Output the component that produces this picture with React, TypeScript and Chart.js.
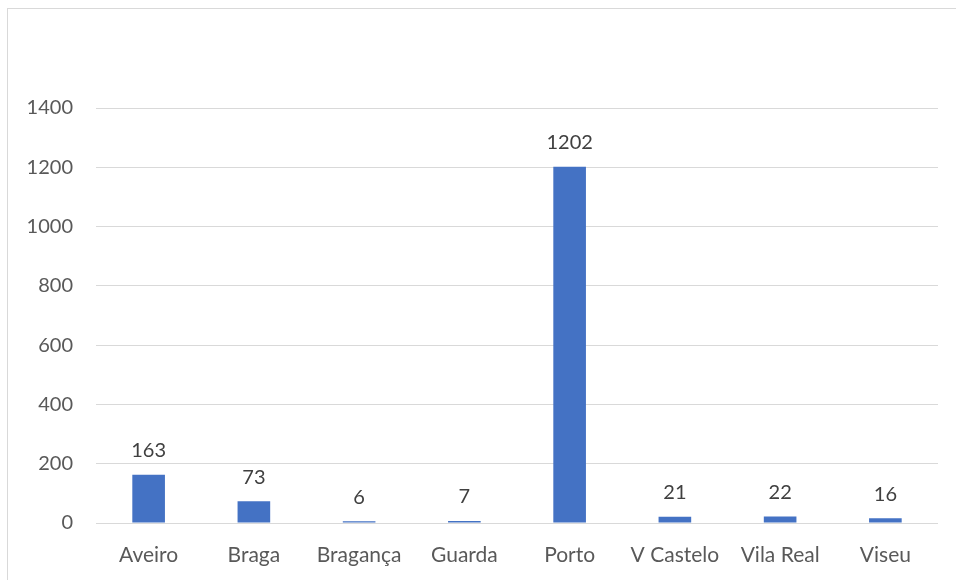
import React, { useEffect, useRef } from "react";
import { Chart, registerables } from "chart.js";

Chart.register(...registerables);

const categories = ["Aveiro", "Braga", "Bragança", "Guarda", "Porto", "V Castelo", "Vila Real", "Viseu"];
const values = [163, 73, 6, 7, 1202, 21, 22, 16];
const yMin = 0;
const yMax = 1400;
const yStep = 200;

const FONT = "Lato, 'Open Sans', sans-serif";

const dataLabels = {
  id: "dataLabels",
  afterDatasetsDraw(chart: any) {
    const ctx = chart.ctx;
    const meta = chart.getDatasetMeta(0);
    ctx.save();
    ctx.fillStyle = "#404040";
    ctx.font = `20px ${FONT}`;
    ctx.textAlign = "center";
    ctx.textBaseline = "bottom";
    meta.data.forEach((bar: any, i: number) => {
      ctx.fillText(String(values[i]), bar.x, bar.y - 14);
    });
    ctx.restore();
  },
};

export default function App() {
  const ref = useRef<HTMLCanvasElement | null>(null);
  useEffect(() => {
    if (!ref.current) return;
    const chart = new Chart(ref.current, {
      type: "bar",
      data: {
        labels: categories,
        datasets: [
          {
            data: values,
            backgroundColor: "#4472C4",
            barPercentage: 0.31,
            categoryPercentage: 1,
          },
        ],
      },
      options: {
        animation: false,
        responsive: false,
        maintainAspectRatio: false,
        layout: { padding: { top: 108, right: 18, left: 0, bottom: 0 } },
        plugins: { legend: { display: false }, tooltip: { enabled: false } },
        scales: {
          x: {
            grid: { display: false },
            border: { display: false },
            ticks: { color: "#595959", font: { size: 21, family: FONT }, padding: 12, maxRotation: 0 },
            afterFit: (s: any) => { s.height = 57; },
          },
          y: {
            min: yMin,
            max: yMax,
            grid: { color: "#d9d9d9", lineWidth: 1, drawTicks: false },
            border: { display: false },
            ticks: {
              stepSize: yStep,
              color: "#595959",
              font: { size: 20, family: FONT },
              padding: 23,
              callback: (v: any) => String(v),
            },
            afterFit: (s: any) => { s.width = 96; },
          },
        },
      },
      plugins: [dataLabels],
    });
    return () => chart.destroy();
  }, []);
  return (
    <div style={{ position: "absolute", left: 0, top: 0, width: 956, height: 580, overflow: "hidden", background: "#fff" }}>
      <div style={{ position: "absolute", left: 7, top: 8, width: 960, height: 600, border: "1px solid #d9d9d9" }} />
      <canvas ref={ref} width={956} height={580} style={{ position: "absolute", left: 0, top: 0 }} />
    </div>
  );
}
